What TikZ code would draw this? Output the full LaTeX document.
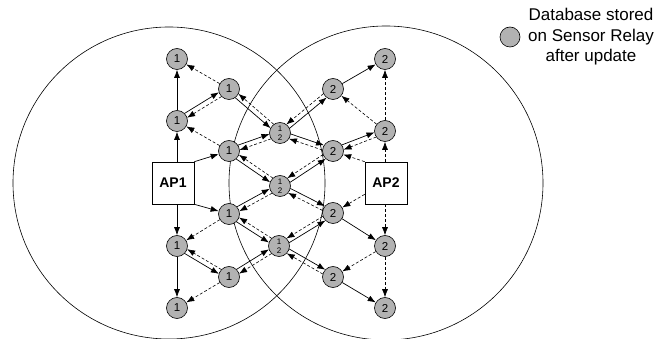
\documentclass[tikz,border=0pt]{standalone}
\usepackage{fontspec}
\setmainfont{Liberation Sans}
\usepackage{tikz}
\usetikzlibrary{calc}
\usetikzlibrary{arrows.meta}
\definecolor{relaygray}{RGB}{178,178,178}
\tikzset{
  relay/.style={circle,draw,line width=0.6pt,fill=relaygray,minimum size=21pt,inner sep=0pt,font=\fontsize{11.5}{13}\selectfont},
  twodb/.style={relay,align=center,font=\fontsize{8}{8.8}\selectfont},
  ap/.style={draw,line width=0.6pt,fill=white,minimum size=42pt,inner sep=0pt,font=\fontsize{14}{16}\bfseries\selectfont},
  fwd/.style={line width=0.7pt,-{Latex[length=8pt,width=6pt]}},
  bwd/.style={line width=0.6pt,dash pattern=on 3pt off 2pt,-{Latex[length=8pt,width=6pt]}},
  cut/.style={shorten <=10.3pt,shorten >=10.3pt}
}
\begin{document}
\begin{tikzpicture}[x=1pt,y=-1pt]
    \useasboundingbox (0,0) rectangle (659,339);
    \draw[line width=0.6pt] (169,183) circle (156pt);
    \draw[line width=0.6pt] (386,183) circle (157pt);
    \node[ap] (ap1) at (173,183) {AP1};
    \node[ap] (ap2) at (386,183) {AP2};
    \node[relay] (a1) at (177,59) {1};
    \node[relay] (a2) at (177,121) {1};
    \node[relay] (a3) at (177,246) {1};
    \node[relay] (a4) at (177,308) {1};
    \node[relay] (b1) at (229,89) {1};
    \node[relay] (b2) at (229,151) {1};
    \node[relay] (b3) at (229,214) {1};
    \node[relay] (b4) at (229,277) {1};
    \node[twodb] (c1) at (280,133) {1\\2};
    \node[twodb] (c2) at (280,186) {1\\2};
    \node[twodb] (c3) at (279,246) {1\\2};
    \node[relay] (d1) at (333,89) {2};
    \node[relay] (d2) at (333,151) {2};
    \node[relay] (d3) at (333,213) {2};
    \node[relay] (d4) at (333,277) {2};
    \node[relay] (e1) at (385,59) {2};
    \node[relay] (e2) at (385,131) {2};
    \node[relay] (e3) at (385,246) {2};
    \node[relay] (e4) at (385,308) {2};
    \node[relay,minimum size=20pt] (key) at (510,37) {};
    \node[align=center,font=\fontsize{17}{20.5}\selectfont] (keytext) at (591,37) {Database stored\\on Sensor Relay\\after update};
    \foreach \l/\r/\s in {a2/b1/90, a3/b4/-90, b1/c1/-90, b2/c1/90, b2/c2/-90, b3/c2/90, b3/c3/-90, b4/c3/90,
                          c1/d1/-90, c1/d2/90, c2/d2/-90, c2/d3/90, c3/d3/-90, c3/d4/90, d2/e2/90}{
      \draw[fwd,cut] ($(\l)!2.5pt!\s:(\r)$) -- ($(\r)!2.5pt!\s+180:(\l)$);
      \draw[bwd,cut] ($(\r)!2.5pt!\s:(\l)$) -- ($(\l)!2.5pt!\s+180:(\r)$);
    }
    \foreach \p/\q in {a2/a1, a3/a4, d1/e1, d3/e3, d4/e4}
      \draw[fwd] (\p) -- (\q);
    \foreach \p/\q in {b1/a1, b2/a2, b3/a3, b4/a4, e2/d1, e3/d4, e2/e1, e3/e4}
      \draw[bwd] (\p) -- (\q);
    \draw[fwd] (ap1.north -| a2) -- (a2);
    \draw[fwd] (ap1.south -| a3) -- (a3);
    \draw[fwd] (ap1.north east) -- (b2);
    \draw[fwd] (ap1.south east) -- (b3);
    \draw[bwd] (ap2.north -| e2) -- (e2);
    \draw[bwd] (ap2.south -| e3) -- (e3);
    \draw[bwd] (ap2.north west) -- (d2);
    \draw[bwd] ([yshift=10pt]ap2.south west) -- (d3);
\end{tikzpicture}
\end{document}
